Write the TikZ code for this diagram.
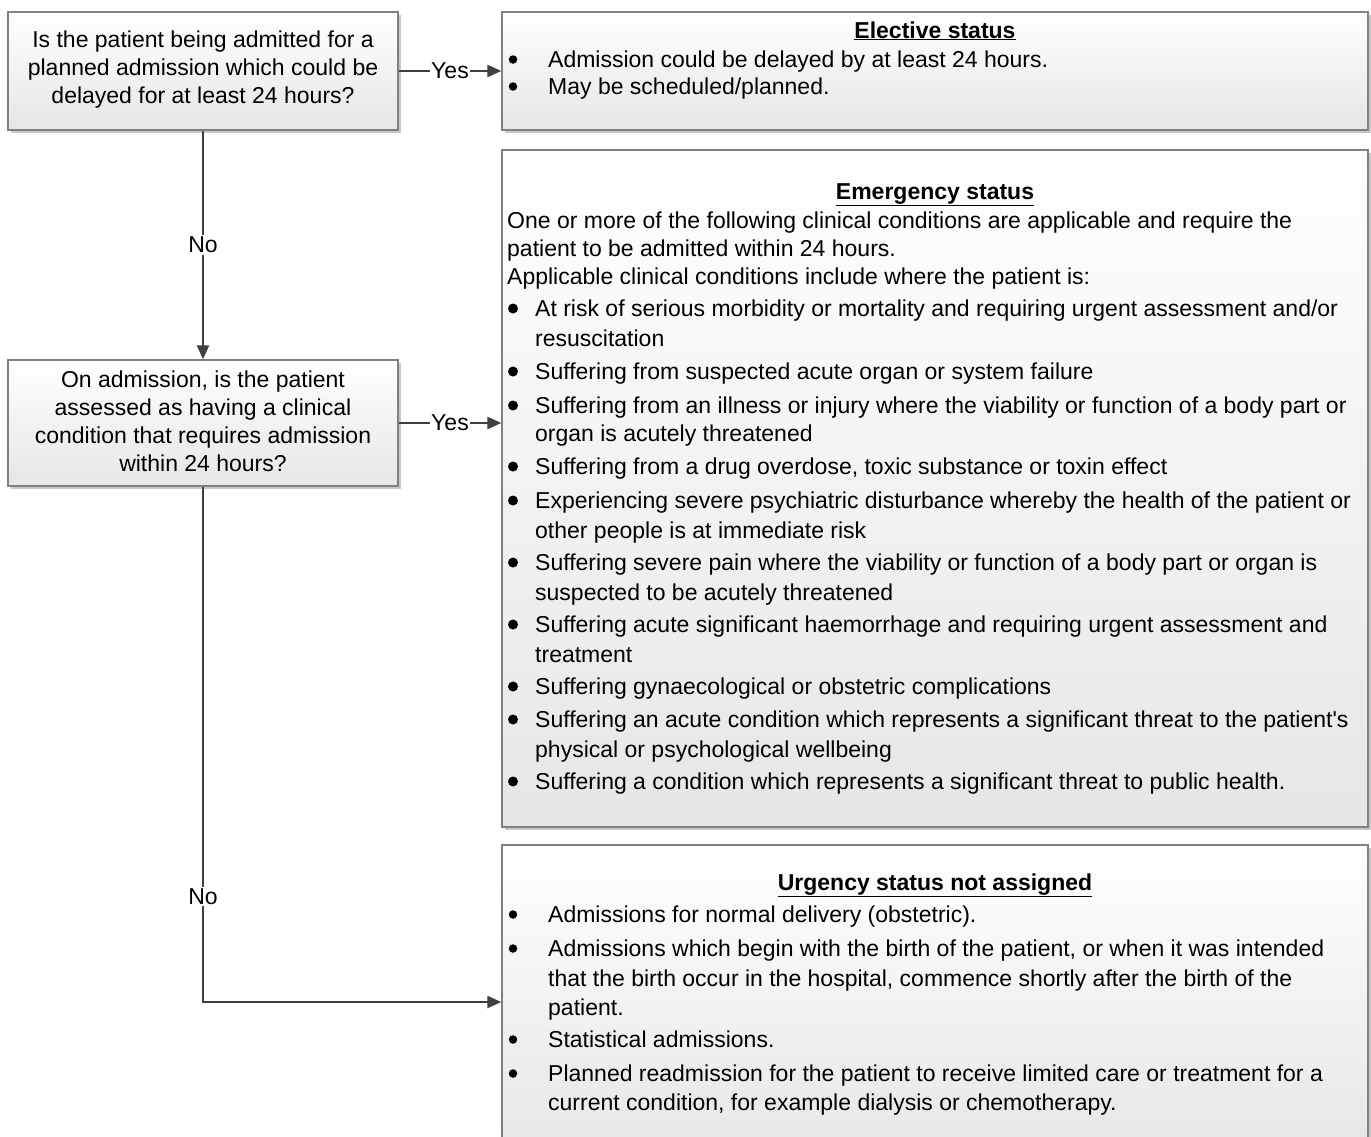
\documentclass[tikz,border=0pt]{standalone}
\usepackage{fontspec}
\setmainfont{Liberation Sans}
\usetikzlibrary{shadows,arrows.meta}

\definecolor{bordergray}{HTML}{808080}
\definecolor{arrowgray}{HTML}{404040}
\definecolor{shadowgray}{HTML}{C8C8C8}
\definecolor{boxbottom}{HTML}{E6E6E6}

\newcommand\txt{\fontsize{23}{28}\selectfont}

\tikzset{
 box/.style={draw=bordergray, line width=1.3pt, top color=white, bottom color=boxbottom,
   drop shadow={shadow xshift=3pt, shadow yshift=-3pt, fill=shadowgray, opacity=1},
   inner sep=0pt},
 conn/.style={draw=arrowgray, line width=2.2pt, -{Triangle[length=14pt,width=12pt]}},
 lab/.style={fill=white, inner sep=1.5pt, font=\txt, text=black},
 ln/.style={anchor=base west, inner sep=0pt, font=\txt},
 ttl/.style={anchor=base, inner sep=0pt, font=\txt\bfseries},
 sdot/.style={circle, fill=black, inner sep=0pt, minimum size=8.5pt},
 bdot/.style={circle, fill=black, inner sep=0pt, minimum size=10pt},
 qtext/.style={align=center, font=\txt, inner sep=0pt},
}

% \bl{name}{y-baseline}{x-text}{text}{dot style} : bullet line
\newcommand\bl[5]{%
  \node[#5] (#1d) at (513,#2-7.5) {};
  \node[ln] (#1) at (#3,#2) {#4};}
\newcommand\tl[4]{\node[ln] (#1) at (#3,#2) {#4};}

\begin{document}
\begin{tikzpicture}[x=1pt,y=-1pt]
\clip (0,0) rectangle (1371,1136);
\fill[white] (0,0) rectangle (1371,1136);

% boxes
\node[box, minimum width=390pt, minimum height=118pt] (q1) at (203,71) {};
\node[box, minimum width=866pt, minimum height=118pt] (el) at (935,71) {};
\node[box, minimum width=866pt, minimum height=677pt] (em) at (935,488.5) {};
\node[box, minimum width=390pt, minimum height=126pt] (q2) at (203,423) {};
\node[box, minimum width=866pt, minimum height=314pt] (ur) at (935,1002) {};

% question texts
\node[qtext] (q1t) at (203,70) {Is the patient being admitted for a\\planned admission which could be\\delayed for at least 24 hours?};
\node[qtext] (q2t) at (203,421) {On admission, is the patient\\assessed as having a clinical\\condition that requires admission\\within 24 hours?};

% connectors
\draw[conn] (q1.east) -- node[lab] (y1) {Yes} (el.west);
\draw[conn] (q1.south) -- node[lab] (n1) {No} (q2.north);
\draw[conn] (q2.east) -- node[lab] (y2) {Yes} (q2.east -| em.west);
\draw[conn] (q2.south) |- node[lab, pos=0.398] (n2) {No} (ur.west);

% Elective
\node[ttl] (elt) at (935,38) {\underline{Elective status}};
\bl{el1}{67}{548}{Admission could be delayed by at least 24 hours.}{sdot}
\bl{el2}{94}{548}{May be scheduled/planned.}{sdot}

% Emergency
\node[ttl] (emt) at (935,199) {\underline{Emergency status}};
\tl{ep1}{228}{507}{One or more of the following clinical conditions are applicable and require the}
\tl{ep2}{256}{507}{patient to be admitted within 24 hours.}
\tl{ep3}{284}{507}{Applicable clinical conditions include where the patient is:}
\bl{e1}{316}{535}{At risk of serious morbidity or mortality and requiring urgent assessment and/or}{bdot}
\tl{e1b}{346}{535}{resuscitation}
\bl{e2}{379}{535}{Suffering from suspected acute organ or system failure}{bdot}
\bl{e3}{413}{535}{Suffering from an illness or injury where the viability or function of a body part or}{bdot}
\tl{e3b}{441}{535}{organ is acutely threatened}
\bl{e4}{474}{535}{Suffering from a drug overdose, toxic substance or toxin effect}{bdot}
\bl{e5}{508}{535}{Experiencing severe psychiatric disturbance whereby the health of the patient or}{bdot}
\tl{e5b}{538}{535}{other people is at immediate risk}
\bl{e6}{570}{535}{Suffering severe pain where the viability or function of a body part or organ is}{bdot}
\tl{e6b}{600}{535}{suspected to be acutely threatened}
\bl{e7}{632}{535}{Suffering acute significant haemorrhage and requiring urgent assessment and}{bdot}
\tl{e7b}{662}{535}{treatment}
\bl{e8}{694}{535}{Suffering gynaecological or obstetric complications}{bdot}
\bl{e9}{727}{535}{Suffering an acute condition which represents a significant threat to the patient\textquotesingle s}{bdot}
\tl{e9b}{757}{535}{physical or psychological wellbeing}
\bl{e10}{789}{535}{Suffering a condition which represents a significant threat to public health.}{bdot}

% Urgency
\node[ttl] (urt) at (935,890) {\underline{Urgency status not assigned}};
\bl{u1}{922}{548}{Admissions for normal delivery (obstetric).}{sdot}
\bl{u2}{956}{548}{Admissions which begin with the birth of the patient, or when it was intended}{sdot}
\tl{u2b}{986}{548}{that the birth occur in the hospital, commence shortly after the birth of the}
\tl{u2c}{1015}{548}{patient.}
\bl{u3}{1047}{548}{Statistical admissions.}{sdot}
\bl{u4}{1081}{548}{Planned readmission for the patient to receive limited care or treatment for a}{sdot}
\tl{u4b}{1110}{548}{current condition, for example dialysis or chemotherapy.}
\end{tikzpicture}
\end{document}
